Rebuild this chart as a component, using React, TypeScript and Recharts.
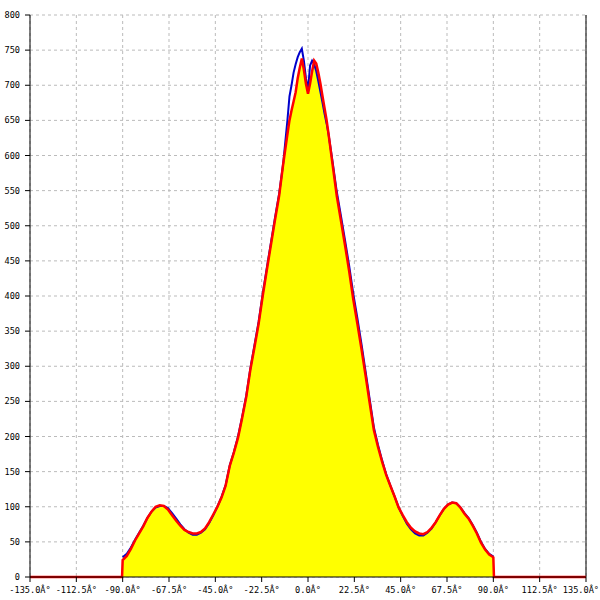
import {
  ComposedChart,
  Area,
  Line,
  XAxis,
  YAxis,
  CartesianGrid,
  ReferenceLine,
} from "recharts";

const angles = [
  -135, -90.3, -90, -88, -86, -84, -82, -80, -78, -76, -74, -72, -70, -68, -66, -64, -62, -60,
  -58, -56, -54, -52, -50, -48, -46, -44, -42, -40, -38, -36, -34, -32, -30, -28, -26, -24, -22,
  -20, -18, -16, -14, -12, -10, -9, -8, -7, -6, -5, -4, -3, -2, -1, 0, 1, 2, 3, 4, 5, 6, 7, 8, 9,
  10, 12, 14, 16, 18, 20, 22, 24, 26, 28, 30, 32, 34, 36, 38, 40, 42, 44, 46, 48, 50, 52, 54, 56,
  58, 60, 62, 64, 66, 68, 70, 72, 74, 76, 78, 80, 82, 84, 86, 88, 90, 90.3, 135,
];

const redValues = [
  0, 0, 24, 30, 40, 52, 62, 72, 84, 93, 100, 102, 101, 96, 88, 80, 73, 67,
  64, 62, 62, 64, 69, 78, 89, 100, 113, 130, 158, 177, 198, 226, 256, 295, 327, 360, 400,
  437, 473, 509, 543, 589, 630, 650, 664, 677, 690, 710, 725, 738, 722, 702, 688, 702, 720, 735, 731, 718, 703, 685, 668, 651,
  630, 586, 542, 507, 472, 435, 395, 360, 324, 286, 247, 209, 185, 164, 145, 130, 115, 99, 88, 78, 70, 65, 62, 61,
  64, 70, 78, 88, 97, 103, 106, 105, 99, 90, 83, 73, 62, 49, 39, 32, 28, 0, 0,
];

const blueValues = [
  null, null, 28, 33, 42, 53, 63, 73, 84, 93, 99, 101, 101, 98, 91, 83, 75, 68,
  63, 60, 60, 63, 68, 77, 88, 100, 114, 131, 159, 178, 200, 228, 258, 297, 330, 363, 403,
  440, 476, 512, 546, 590, 650, 684, 700, 718, 730, 740, 747, 752, 735, 710, 693, 728, 735, 730, 720, 706, 691, 676, 660, 646,
  630, 590, 548, 514, 479, 443, 403, 368, 331, 292, 252, 213, 188, 166, 146, 130, 115, 99, 87, 76, 68, 62, 59, 59,
  63, 69, 78, 88, 97, 103, 106, 105, 99, 91, 84, 74, 63, 50, 40, 33, 29, null, null,
];

const xTicks = [-135, -112.5, -90, -67.5, -45, -22.5, 0, 22.5, 45, 67.5, 90, 112.5, 135];
const yTicks = [0, 50, 100, 150, 200, 250, 300, 350, 400, 450, 500, 550, 600, 650, 700, 750, 800];

const data = angles.map((a, i) => ({ angle: a, red: redValues[i], blue: blueValues[i] }));

const tickStyle = { fontFamily: "DejaVu Sans Mono", fontSize: 8.6, fill: "#000" };

// keeps the last label inside the 600px frame
function AngleTick(props: any) {
  const { x, y, payload } = props;
  const last = payload.value === 135;
  return (
    <text
      x={last ? 599 : x}
      y={y}
      dy="0.71em"
      textAnchor={last ? "end" : "middle"}
      {...tickStyle}
    >
      {`${Number(payload.value).toFixed(1)}Â°`}
    </text>
  );
}

export default function App() {
  return (
    <div style={{ position: "absolute", top: 0, left: 0, width: 600, height: 600, background: "#fff" }}>
      <ComposedChart
        width={600}
        height={600}
        data={data}
        margin={{ top: 15, right: 14, left: 0, bottom: 0 }}
      >
        <CartesianGrid stroke="#bbbbbb" strokeDasharray="3 3" horizontalValues={yTicks} verticalValues={xTicks} />
        <XAxis
          dataKey="angle"
          type="number"
          domain={[-135, 135]}
          ticks={xTicks}
          interval={0}
          height={23}
          tickSize={5}
          tickMargin={5}
          tick={<AngleTick />}
          axisLine={{ stroke: "#000" }}
          tickLine={{ stroke: "#000" }}
        />
        <YAxis
          type="number"
          domain={[0, 800]}
          ticks={yTicks}
          interval={0}
          width={30}
          tickSize={5}
          tickMargin={5}
          tick={tickStyle}
          axisLine={{ stroke: "#000" }}
          tickLine={{ stroke: "#000" }}
        />
        <ReferenceLine x={135} stroke="#000" />
        <Area
          type="linear"
          dataKey="red"
          stroke="none"
          fill="#ffff00"
          fillOpacity={1}
          isAnimationActive={false}
        />
        <Line
          type="linear"
          dataKey="blue"
          stroke="#0000cc"
          strokeWidth={2}
          dot={false}
          isAnimationActive={false}
        />
        <Line
          type="linear"
          dataKey="red"
          stroke="#ff0000"
          strokeWidth={2.5}
          dot={false}
          isAnimationActive={false}
        />
      </ComposedChart>
    </div>
  );
}
